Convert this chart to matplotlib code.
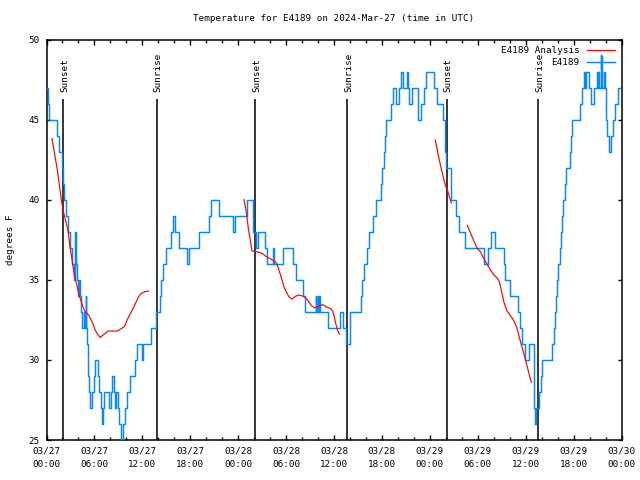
import matplotlib
matplotlib.use('Agg')
import matplotlib.pyplot as plt
from matplotlib.ticker import MultipleLocator, FixedLocator
from matplotlib.lines import Line2D

# ---------------- data (hours since 2024-03-27 00:00 UTC) ----------------
obs_hours = [0.0, 0.2, 0.35, 1.3, 1.6, 2.0, 2.1, 2.2, 2.45, 2.7, 2.9, 3.2, 3.4, 3.55, 3.6, 3.7,
             3.8, 4.0, 4.1, 4.2, 4.35, 4.5, 4.7, 4.85, 4.93, 5.0, 5.05, 5.15, 5.35, 5.5, 5.7,
             5.9, 6.1, 6.45, 6.6, 6.8, 6.9, 7.1, 7.2, 7.85, 8.05, 8.15, 8.4, 8.55, 8.75, 8.95,
             9.1, 9.35, 9.6, 9.85, 10.1, 10.4, 11.1, 11.35, 11.9, 12.05, 13.05, 13.75, 14.15,
             14.3, 14.55, 14.95, 15.55, 15.85, 16.1, 16.6, 17.55, 17.9, 19.1, 20.3, 20.6, 21.6,
             23.3, 23.65, 25.15, 25.85, 26.2, 26.45, 27.3, 27.6, 28.35, 28.5, 29.6, 30.9, 31.3,
             32.15, 32.35, 33.7, 33.8, 33.95, 34.05, 34.15, 34.25, 35.3, 36.7, 37.15, 37.45,
             37.95, 38.05, 39.4, 39.55, 39.8, 40.1, 40.4, 40.9, 41.2, 41.85, 42.0, 42.25, 42.4,
             42.55, 43.1, 43.4, 43.8, 44.2, 44.4, 44.7, 45.1, 45.25, 45.4, 45.8, 46.5, 46.85,
             47.3, 47.55, 48.5, 48.9, 49.7, 49.9, 50.0, 50.6, 51.3, 51.6, 52.4, 54.8, 55.3,
             55.6, 56.1, 57.3, 57.45, 58.1, 59.0, 59.3, 59.6, 59.9, 60.45, 61.05, 61.15, 61.3,
             61.7, 61.9, 62.1, 63.3, 63.5, 63.7, 63.85, 63.95, 64.1, 64.25, 64.4, 64.5, 64.65,
             64.95, 65.1, 65.5, 65.7, 65.85, 66.8, 67.05, 67.3, 67.4, 67.5, 67.9, 68.2, 68.55,
             68.9, 69.0, 69.1, 69.2, 69.45, 69.5, 69.6, 69.75, 69.9, 70.05, 70.2, 70.4, 70.65,
             70.9, 71.15, 71.5, 71.85]
obs_temp = [47, 46, 45, 44, 43, 42, 41, 40, 39, 38, 37, 36, 35, 36, 38, 36,
            35, 34, 35, 34, 33, 32, 33, 32, 34, 32, 31, 29, 28, 27, 28,
            29, 30, 29, 28, 27, 26, 27, 28, 27, 28, 29, 28, 27, 28, 27,
            26, 25, 26, 27, 28, 29, 30, 31, 30, 31, 32, 33, 34,
            35, 36, 37, 38, 39, 38, 37, 36, 37, 38, 39, 40, 39,
            38, 39, 40, 38, 37, 38, 37, 36, 37, 36, 37, 36, 35,
            34, 33, 34, 33, 34, 33, 34, 33, 32, 33, 32, 31,
            32, 33, 34, 35, 36, 37, 38, 39, 40, 41, 42, 43, 44,
            45, 46, 47, 46, 47, 48, 47, 48, 47, 46, 47, 45, 46,
            47, 48, 47, 46, 45, 43, 42, 40, 39, 38, 37, 36, 37,
            38, 37, 36, 35, 34, 33, 32, 31, 30, 31, 27, 26, 27,
            28, 29, 30, 31, 32, 33, 34, 35, 36, 37, 38, 39, 40,
            41, 42, 43, 44, 45, 46, 47, 48, 47, 48, 47, 46, 47,
            48, 47, 48, 47, 49, 48, 47, 48, 47, 45, 44, 43, 44,
            45, 46, 47, 47]

anl1_hours = [0.69, 1.36, 1.86, 2.19, 2.69, 2.94, 3.19, 3.48, 3.78, 4.11, 4.44, 4.78, 5.28,
              5.78, 6.11, 6.45, 6.74, 7.2, 7.7, 8.87, 9.37, 9.79, 10.1, 10.62, 11.12, 11.54,
              11.87, 12.29, 12.79]
anl1_temp = [43.82, 41.85, 39.97, 39.1, 38.1, 37.05, 36.3, 35.3, 34.7, 34.0, 33.5, 33.05, 32.8,
             32.3, 31.85, 31.55, 31.4, 31.6, 31.8, 31.8, 31.95, 32.1, 32.5, 33.0, 33.5, 33.95,
             34.15, 34.25, 34.3]

anl2_hours = [24.73, 24.98, 25.15, 25.3, 25.48, 25.73, 26.0, 26.73, 27.15, 27.5, 28.07, 28.4,
              28.7, 28.99, 29.24, 29.49, 29.74, 30.07, 30.4, 30.74, 31.1, 31.57, 31.99, 32.4,
              32.74, 33.16, 33.58, 34.08, 34.58, 35.08, 35.58, 35.83, 36.08, 36.25, 36.42,
              36.58, 36.67]
anl2_temp = [40.0, 39.35, 38.7, 38.1, 37.6, 36.8, 36.78, 36.7, 36.6, 36.45, 36.3, 36.2,
             36.1, 35.8, 35.4, 35.0, 34.55, 34.2, 33.9, 33.8, 33.95, 34.05, 34.0, 33.9,
             33.7, 33.4, 33.25, 33.35, 33.45, 33.3, 33.2, 33.05, 32.6, 32.2, 31.9,
             31.7, 31.6]

anl3_hours = [48.69, 49.1, 49.52, 49.94, 50.27, 50.44, 50.69]
anl3_temp = [43.72, 42.68, 41.74, 40.9, 40.5, 40.2, 39.8]

anl4_hours = [52.69, 53.11, 53.53, 53.94, 54.36, 54.78, 55.2, 55.61, 56.03, 56.45, 56.7, 56.95,
              57.28, 57.62, 58.04, 58.46, 58.88, 59.21, 59.54, 59.88, 60.21, 60.54, 60.71]
anl4_temp = [38.4, 37.9, 37.4, 36.95, 36.74, 36.3, 35.95, 35.6, 35.3, 35.1, 34.9, 34.35,
             33.6, 33.1, 32.8, 32.5, 32.05, 31.4, 30.8, 30.2, 29.55, 28.9, 28.6]

sun_hours = [2.1, 13.78, 26.13, 37.67, 50.15, 61.58]
sun_labels = ['Sunset', 'Sunrise', 'Sunset', 'Sunrise', 'Sunset', 'Sunrise']

tick_hours = [0, 6, 12, 18, 24, 30, 36, 42, 48, 54, 60, 66, 72]
tick_labels = ['03/27\n00:00', '03/27\n06:00', '03/27\n12:00', '03/27\n18:00',
               '03/28\n00:00', '03/28\n06:00', '03/28\n12:00', '03/28\n18:00',
               '03/29\n00:00', '03/29\n06:00', '03/29\n12:00', '03/29\n18:00',
               '03/30\n00:00']

# ---------------- style ----------------
FS = 6.7
plt.rcParams['font.family'] = ['DejaVu Sans Mono', 'DejaVu Sans']
plt.rcParams['font.size'] = FS
BLUE = '#0a84ff'
RED = '#ff0000'

fig = plt.figure(figsize=(6.4, 4.8), dpi=100)
ax = fig.add_axes([46.5 / 640, 40 / 480, 575 / 640, 400.5 / 480])

ax.plot(obs_hours, obs_temp, color=BLUE, lw=1.05, drawstyle='steps-post', zorder=3)
for hh, tt in [(anl1_hours, anl1_temp), (anl2_hours, anl2_temp),
               (anl3_hours, anl3_temp), (anl4_hours, anl4_temp)]:
    ax.plot(hh, tt, color=RED, lw=0.85, zorder=4)

ax.vlines(sun_hours, 25, 46.3, colors='black', lw=1.1, zorder=2)
for h, lab in zip(sun_hours, sun_labels):
    ax.text(h + 0.15, 46.72, lab, rotation=90, ha='center', va='bottom', fontsize=FS)

ax.set_xlim(0, 72)
ax.set_ylim(25, 50)
ax.xaxis.set_major_locator(FixedLocator(tick_hours))
ax.set_xticklabels(tick_labels)
ax.xaxis.set_minor_locator(MultipleLocator(2))
ax.yaxis.set_major_locator(MultipleLocator(5))
for lbl in ax.get_xticklabels():
    lbl.set_linespacing(1.55)

ax.tick_params(which='both', direction='in', top=True, right=True, width=1.0, labelsize=FS)
ax.tick_params(axis='x', which='major', length=3.6, pad=5)
ax.tick_params(axis='x', which='minor', length=2.4)
ax.tick_params(axis='y', which='major', length=3.2, pad=5)
for s in ax.spines.values():
    s.set_linewidth(1.1)

ax.set_title('Temperature for E4189 on 2024-Mar-27 (time in UTC)', fontsize=FS, pad=13)
ax.set_ylabel('degrees F', fontsize=FS)
ax.yaxis.set_label_coords(-(46.5 - 15) / 575, 0.5)

handles = [Line2D([], [], color=RED, lw=0.85),
           Line2D([], [], color=BLUE, lw=1.05, marker='|', markersize=12, markeredgewidth=1.05)]
ax.legend(handles, ['E4189 Analysis', 'E4189'], loc='upper right', frameon=False,
          markerfirst=False, handlelength=3.0, labelspacing=0.3, borderaxespad=0.4,
          handletextpad=0.8, fontsize=FS, borderpad=0.3)

fig.savefig('out.png', dpi=100)
